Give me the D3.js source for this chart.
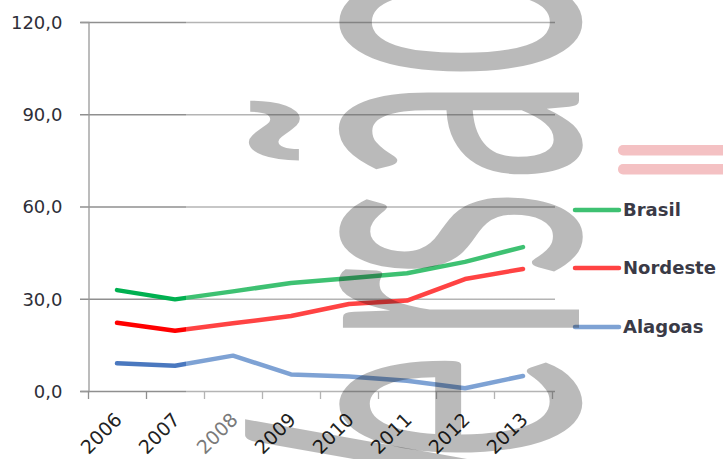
<!DOCTYPE html>
<html>
<head>
<meta charset="utf-8">
<script src="https://cdn.jsdelivr.net/npm/d3@7/dist/d3.min.js"></script>
<style>
  html, body { margin: 0; padding: 0; background: #fff; }
  svg { display: block; }
</style>
</head>
<body>
<svg id="chart" width="723" height="459"></svg>
<script>
const years = ["2006","2007","2008","2009","2010","2011","2012","2013"];
const brasil   = [32.8, 29.8, 32.4, 35.1, 36.7, 38.3, 42.0, 46.8];
const nordeste = [22.2, 19.6, 22.0, 24.4, 28.3, 29.4, 36.4, 39.7];
const alagoas  = [9.0, 8.2, 11.5, 5.4, 4.7, 3.3, 0.9, 4.9];
const seriesNames = ["Brasil", "Nordeste", "Alagoas"];
const yTicks = [0, 30, 60, 90, 120];
const watermarkLetters = ["V","e","r","s","ã","o"];

const W = 723, H = 459;
const svg = d3.select("#chart");
const split = 186 / W;

const colors = {
  Brasil:   { dark: "#00b050", light: "#3ec172" },
  Nordeste: { dark: "#ff0000", light: "#ff4343" },
  Alagoas:  { dark: "#4a78bf", light: "#7ea2d4" },
  grid:     { dark: "#8f8f8f", light: "#b4b4b4" }
};

const defs = svg.append("defs");
Object.entries(colors).forEach(([k, c]) => {
  const g = defs.append("linearGradient").attr("id", "g-" + k)
    .attr("gradientUnits", "userSpaceOnUse")
    .attr("x1", 0).attr("x2", W).attr("y1", 0).attr("y2", 0);
  g.append("stop").attr("offset", 0).attr("stop-color", c.dark);
  g.append("stop").attr("offset", split).attr("stop-color", c.dark);
  g.append("stop").attr("offset", split).attr("stop-color", c.light);
  g.append("stop").attr("offset", 1).attr("stop-color", c.light);
});

const x = d3.scaleBand().domain(years).range([88, 552]).padding(0);
const y = d3.scaleLinear().domain([0, 120]).range([391, 22]);

// gridlines
svg.append("g").selectAll("line").data(yTicks).join("line")
  .attr("x1", 80).attr("x2", 555)
  .attr("y1", d => y(d) + 0.5).attr("y2", d => y(d) + 0.5)
  .attr("stroke", "url(#g-grid)").attr("stroke-width", 1.3);

// y axis
const yAxis = d3.axisLeft(y).tickValues(yTicks).tickSize(8).tickPadding(18)
  .tickFormat(d => d.toFixed(1).replace(".", ","));
const ya = svg.append("g").attr("transform", "translate(88.5,0)").call(yAxis);
ya.select(".domain").attr("stroke", "#999").attr("stroke-width", 1.3);
ya.selectAll(".tick line").attr("stroke", "none");
ya.selectAll(".tick text").attr("font-family", "DejaVu Sans").attr("font-size", 18)
  .attr("fill", "#2e2e38").attr("dy", "0.36em");

// x axis tick marks at category boundaries
const bounds = years.map(d => x(d)).concat([x.range()[1]]);
svg.append("g").selectAll("line").data(bounds).join("line")
  .attr("x1", d => d + 0.5).attr("x2", d => d + 0.5)
  .attr("y1", y(0)).attr("y2", y(0) + 8)
  .attr("stroke", (d) => d < 186 ? "#8f8f8f" : "#b4b4b4").attr("stroke-width", 1.3);

// x labels
const labelColor = { "2008": "#7a7a7a" };
svg.append("g").selectAll("text").data(years).join("text")
  .attr("transform", d => `translate(${x(d) + x.bandwidth() / 2 + 6},${y(0) + 30}) rotate(-45)`)
  .attr("text-anchor", "end")
  .attr("font-family", "DejaVu Sans").attr("font-size", 19)
  .attr("fill", d => labelColor[d] || "#222")
  .text(d => d);

// lines
const data = {
  Brasil: brasil, Nordeste: nordeste, Alagoas: alagoas
};
const line = d3.line()
  .x((d, i) => x(years[i]) + x.bandwidth() / 2)
  .y(d => y(d));
seriesNames.forEach(name => {
  svg.append("path").datum(data[name])
    .attr("d", line)
    .attr("fill", "none")
    .attr("stroke", `url(#g-${name})`)
    .attr("stroke-width", 4.5)
    .attr("stroke-linecap", "round")
    .attr("stroke-linejoin", "round");
});

// legend
const legendY = { Brasil: 210, Nordeste: 268, Alagoas: 327 };
const lg = svg.append("g");
seriesNames.forEach(name => {
  lg.append("line")
    .attr("x1", 575).attr("x2", 619)
    .attr("y1", legendY[name]).attr("y2", legendY[name])
    .attr("stroke", colors[name].light).attr("stroke-width", 4.5)
    .attr("stroke-linecap", "round");
  lg.append("text")
    .attr("x", 623).attr("y", legendY[name] + 6)
    .attr("font-family", "DejaVu Sans").attr("font-weight", "bold").attr("font-size", 18)
    .attr("fill", "#3a3a46")
    .text(name);
});

// pink decoration bars
svg.append("g").selectAll("rect").data([145, 164]).join("rect")
  .attr("x", 618).attr("y", d => d).attr("width", 120).attr("height", 10.5)
  .attr("rx", 5).attr("fill", "#f4c1c3");

// watermark "Versão" (rotated, condensed, semi-transparent)
const letterCenters = [488, 407, 305, 234, 130, 22];
const wm = svg.append("g").attr("pointer-events", "none");
watermarkLetters.forEach((ch, i) => {
  wm.append("text")
    .attr("transform", `translate(579,${letterCenters[i]}) rotate(-90) scale(0.44,1)`)
    .attr("text-anchor", "middle")
    .attr("font-family", "Lato").attr("font-size", 466)
    .attr("fill", "#000").attr("fill-opacity", 0.27)
    .text(ch);
});
</script>
</body>
</html>
